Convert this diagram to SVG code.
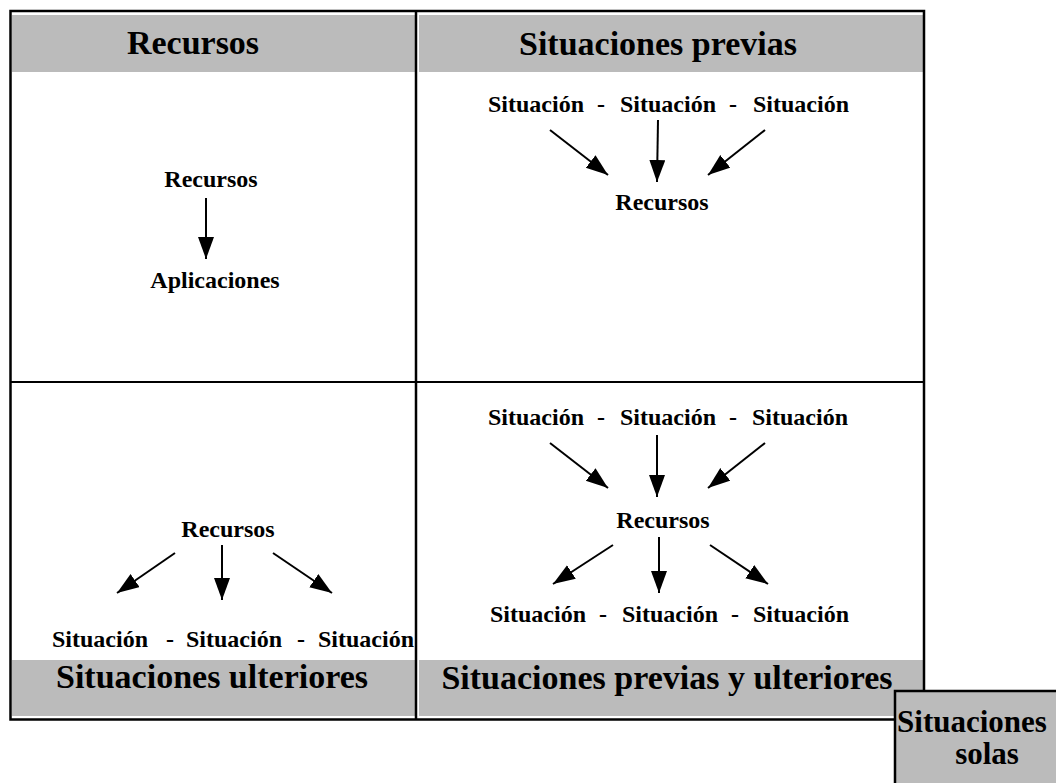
<svg xmlns="http://www.w3.org/2000/svg" width="1056" height="783" viewBox="0 0 1056 783">
<style>
.hdr{font-family:"Liberation Serif","Times New Roman",serif;font-weight:bold;font-size:34px;fill:#000;text-anchor:middle}
.lbl{font-family:"Liberation Serif","Times New Roman",serif;font-weight:bold;font-size:24px;fill:#000;text-anchor:middle}
.solo{font-family:"Liberation Serif","Times New Roman",serif;font-weight:bold;font-size:31px;fill:#000;text-anchor:middle}
.band{fill:#bbbbbb}
.frame{fill:none;stroke:#000;stroke-width:2.5}
.arr{stroke:#000;stroke-width:2;fill:none;marker-end:url(#ah)}
</style>
<defs>
<marker id="ah" markerUnits="userSpaceOnUse" markerWidth="24" markerHeight="18" refX="22" refY="8" orient="auto">
<path d="M0,0 L22,8 L0,16 Z" fill="#000"/>
</marker>
</defs>
<rect width="1056" height="783" fill="#fff"/>
<g id="frame">
<rect class="band" x="12" y="15" width="403" height="57"/>
<rect class="band" x="419" y="15" width="504" height="57"/>
<rect class="band" x="12" y="660" width="403" height="56"/>
<rect class="band" x="419" y="660" width="504" height="56"/>
<rect class="frame" x="10.5" y="11" width="913.5" height="708.5"/>
<line x1="416" y1="11" x2="416" y2="720" stroke="#000" stroke-width="2.5"/>
<line x1="10" y1="382" x2="924" y2="382" stroke="#000" stroke-width="2"/>
</g>
<g id="hdr-recursos"><text class="hdr" x="193" y="54">Recursos</text></g>
<g id="hdr-previas"><text class="hdr" x="658" y="55">Situaciones previas</text></g>
<g id="hdr-ulteriores"><text class="hdr" x="212" y="688">Situaciones ulteriores</text></g>
<g id="hdr-previas-ulteriores"><text class="hdr" x="667" y="689">Situaciones previas y ulteriores</text></g>
<g id="solas">
<rect x="895" y="691" width="170" height="100" fill="#bbbbbb" stroke="#000" stroke-width="2.5"/>
<text class="solo" x="972" y="732">Situaciones</text>
<text class="solo" x="987" y="764">solas</text>
</g>
<g id="tl-nodes">
<text class="lbl" x="211" y="187">Recursos</text>
<text class="lbl" x="215" y="288">Aplicaciones</text>
</g>
<g id="tr-nodes">
<text class="lbl" x="536" y="112">Situación</text>
<text class="lbl" x="601" y="112">-</text>
<text class="lbl" x="668" y="112">Situación</text>
<text class="lbl" x="733" y="112">-</text>
<text class="lbl" x="801" y="112">Situación</text>
<text class="lbl" x="662" y="210">Recursos</text>
</g>
<g id="bl-nodes">
<text class="lbl" x="228" y="537">Recursos</text>
<text class="lbl" x="100" y="647">Situación</text>
<text class="lbl" x="170" y="647">-</text>
<text class="lbl" x="234" y="647">Situación</text>
<text class="lbl" x="301" y="647">-</text>
<text class="lbl" x="366" y="647">Situación</text>
</g>
<g id="br-nodes">
<text class="lbl" x="536" y="425">Situación</text>
<text class="lbl" x="601" y="425">-</text>
<text class="lbl" x="668" y="425">Situación</text>
<text class="lbl" x="733" y="425">-</text>
<text class="lbl" x="800" y="425">Situación</text>
<text class="lbl" x="663" y="528">Recursos</text>
<text class="lbl" x="538" y="622">Situación</text>
<text class="lbl" x="603" y="622">-</text>
<text class="lbl" x="670" y="622">Situación</text>
<text class="lbl" x="735" y="622">-</text>
<text class="lbl" x="801" y="622">Situación</text>
</g>
<g id="connectors">
<line class="arr" x1="206" y1="198" x2="206" y2="259"/>
<line class="arr" x1="550" y1="130" x2="608" y2="175"/>
<line class="arr" x1="658" y1="120" x2="657" y2="182"/>
<line class="arr" x1="765" y1="130" x2="708" y2="175"/>
<line class="arr" x1="175" y1="553" x2="117" y2="593"/>
<line class="arr" x1="222" y1="545" x2="222" y2="600"/>
<line class="arr" x1="273" y1="553" x2="332" y2="593"/>
<line class="arr" x1="550" y1="443" x2="608" y2="488"/>
<line class="arr" x1="657" y1="435" x2="657" y2="497"/>
<line class="arr" x1="765" y1="443" x2="708" y2="488"/>
<line class="arr" x1="613" y1="545" x2="553" y2="584"/>
<line class="arr" x1="659" y1="537" x2="659" y2="593"/>
<line class="arr" x1="710" y1="545" x2="768" y2="584"/>
</g>
</svg>
